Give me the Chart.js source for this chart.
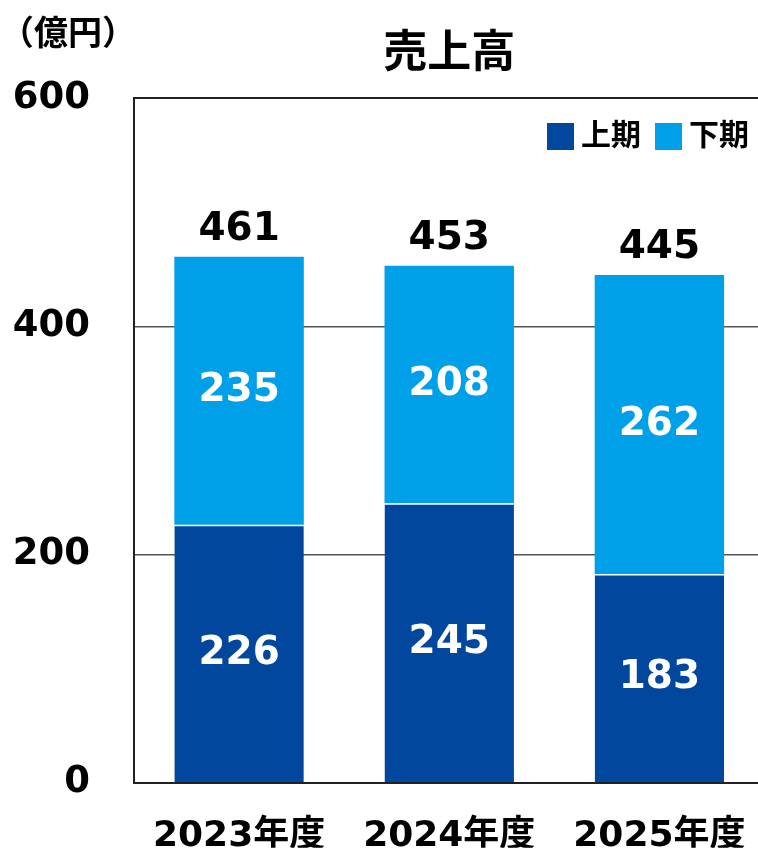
<!DOCTYPE html>
<html lang="ja">
<head>
<meta charset="utf-8">
<title>売上高</title>
<script src="https://cdn.jsdelivr.net/npm/chart.js@4"></script>
<style>
  html, body { margin: 0; padding: 0; background: #fff; overflow: hidden; }
  #wrap { width: 770px; height: 849px; }
</style>
</head>
<body>
<div id="wrap"><canvas id="uriage" width="770" height="849"></canvas></div>
<script>
// 売上高（上期・下期の積み上げ）
const nendo = ['2023年度', '2024年度', '2025年度'];
const kamiki = [226, 245, 183];   // 上期
const shimoki = [235, 208, 262];  // 下期
const yTicks = [0, 200, 400, 600];

const FONT = '"DejaVu Sans", "Noto Sans CJK JP", sans-serif';
const DARK = '#00479D';
const LIGHT = '#00A0E9';

// タイトル・単位・凡例・枠線・数値ラベルを描く
const labelsPlugin = {
  id: 'labels',
  afterDatasetsDraw(chart) {
    const ctx = chart.ctx;
    const area = chart.chartArea;
    ctx.save();

    // 上枠
    ctx.strokeStyle = '#222';
    ctx.lineWidth = 2;
    ctx.beginPath();
    ctx.moveTo(area.left, area.top);
    ctx.lineTo(area.right, area.top);
    ctx.stroke();

    // 積み上げ内の値
    ctx.textAlign = 'center';
    ctx.textBaseline = 'middle';
    ctx.font = 'bold 39px ' + FONT;
    ctx.fillStyle = '#fff';
    chart.data.datasets.forEach((ds, i) => {
      chart.getDatasetMeta(i).data.forEach((bar, j) => {
        ctx.fillText(ds.data[j], bar.x, (bar.y + bar.base) / 2);
      });
    });

    // 合計
    ctx.fillStyle = '#000';
    const topMeta = chart.getDatasetMeta(1);
    topMeta.data.forEach((bar, j) => {
      ctx.fillText(kamiki[j] + shimoki[j], bar.x, bar.y - 27);
    });

    // タイトル
    ctx.font = 'bold 44px ' + FONT;
    ctx.fillText('売上高', (area.left + area.right) / 2, 56);

    // 単位
    ctx.textAlign = 'left';
    ctx.font = 'bold 34px ' + FONT;
    ctx.fillText('（億円）', 0, 36);

    // 凡例
    ctx.font = 'bold 30px ' + FONT;
    const legend = [[547, DARK, '上期'], [655, LIGHT, '下期']];
    legend.forEach(([x, color, text]) => {
      ctx.fillStyle = color;
      ctx.fillRect(x, 123, 27, 27);
      ctx.fillStyle = '#000';
      ctx.fillText(text, x + 34, 137);
    });

    ctx.restore();
  }
};

new Chart(document.getElementById('uriage'), {
  type: 'bar',
  data: {
    labels: nendo,
    datasets: [
      {
        label: '上期',
        data: kamiki,
        backgroundColor: DARK,
        borderColor: '#fff',
        borderWidth: { top: 1.5, left: 0, right: 0, bottom: 0 },
        borderSkipped: false
      },
      {
        label: '下期',
        data: shimoki,
        backgroundColor: LIGHT,
        borderWidth: 0
      }
    ]
  },
  options: {
    responsive: false,
    animation: false,
    events: [],
    layout: { padding: { top: 98, right: 3, left: 0, bottom: 0 } },
    datasets: {
      bar: { categoryPercentage: 1, barPercentage: 0.616 }
    },
    plugins: {
      legend: { display: false },
      title: { display: false },
      tooltip: { enabled: false }
    },
    scales: {
      x: {
        stacked: true,
        grid: { display: false },
        border: { color: '#222', width: 2 },
        ticks: {
          color: '#000',
          padding: 24,
          font: { family: FONT, size: 36, weight: 'bold' }
        },
        afterFit(scale) { scale.height = 65; }
      },
      y: {
        stacked: true,
        min: 0,
        max: 600,
        afterBuildTicks(scale) {
          scale.ticks = yTicks.map(v => ({ value: v }));
        },
        grid: { color: '#555', lineWidth: 1.5, drawTicks: false },
        border: { color: '#222', width: 2 },
        ticks: {
          color: '#000',
          padding: 44,
          font: { family: FONT, size: 37, weight: 'bold' }
        },
        afterFit(scale) { scale.width = 134; }
      }
    }
  },
  plugins: [labelsPlugin]
});
</script>
</body>
</html>
